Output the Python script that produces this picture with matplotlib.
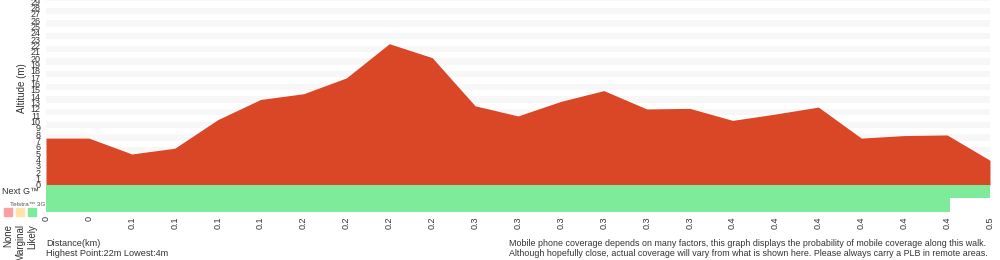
import matplotlib.pyplot as plt
from matplotlib.patches import Rectangle

plt.rcParams['font.family'] = ['Liberation Sans', 'DejaVu Sans']

# elevation profile (m), one value per sample point along the walk
dist_labels = ['0', '0', '0.1', '0.1', '0.1', '0.1', '0.2', '0.2', '0.2', '0.2',
               '0.3', '0.3', '0.3', '0.3', '0.3', '0.3', '0.4', '0.4', '0.4', '0.4',
               '0.4', '0.4', '0.5']
elevation = [7.4, 7.4, 4.9, 5.8, 10.3, 13.5, 14.4, 16.9, 22.3, 20.1,
             12.5, 10.9, 13.2, 14.9, 12.0, 12.1, 10.2, 11.2, 12.3, 7.4,
             7.8, 7.9, 3.9]

# coverage segments: (start index, length in index units, level)
nextg_cover = [(0, 22, 'Likely')]
g3_cover = [(0, 21.07, 'Likely')]

levels = ['None', 'Marginal', 'Likely']
level_colors = {'None': '#FF9E9E', 'Marginal': '#FFE3A8', 'Likely': '#7DEB9A'}

W, H = 1000, 260


def rect(x0, y0, x1, y1):
    # pixel box -> figure fraction
    return [x0 / W, 1 - y1 / H, (x1 - x0) / W, (y1 - y0) / H]


fig = plt.figure(figsize=(10, 2.6), dpi=100)

# altitude chart
ax = fig.add_axes(rect(46, 0, 990, 185))
x = list(range(len(elevation)))
for k in range(1, 30, 2):
    ax.axhspan(k, k + 1, color='#F7F7F7', lw=0, zorder=0)
ax.fill_between(x, elevation, 0, color='#D94726', lw=0, zorder=2)
ax.set_xlim(0, len(elevation) - 1)
ax.set_ylim(0, 29.2)
ax.set_yticks(range(30))
ax.set_yticklabels([str(v) for v in range(30)], fontsize=6.5, color='#333333')
ax.tick_params(axis='y', length=0, pad=4)
ax.set_xticks([])
for s in ax.spines.values():
    s.set_visible(False)
fig.text(22 / W, 1 - 88 / H, 'Altitude (m)', fontsize=7, color='#333333',
         rotation=90, ha='center', va='center')

# coverage rows
ax2 = fig.add_axes(rect(46, 185, 990, 212))
for start, length, lvl in nextg_cover:
    ax2.broken_barh([(start, length)], (1, 1), color=level_colors[lvl], lw=0)
for start, length, lvl in g3_cover:
    ax2.broken_barh([(start, length)], (0, 1), color=level_colors[lvl], lw=0)
ax2.set_xlim(0, len(elevation) - 1)
ax2.set_ylim(0, 2)
ax2.set_yticks([])
ax2.set_xticks(x)
ax2.set_xticklabels(dist_labels, rotation=90, fontsize=6.5, color='#333333')
ax2.tick_params(axis='x', length=0, pad=3)
for s in ax2.spines.values():
    s.set_visible(False)

# legend on the left
fig.text(2 / W, 1 - 192 / H, 'Next G™', fontsize=6.5, color='#333333', va='center')
fig.text(10 / W, 1 - 204 / H, 'Telstra™ 3G', fontsize=4.6, color='#555555', va='center')
for i, lvl in enumerate(levels):
    cx = 4 + i * 12
    fig.patches.append(Rectangle((cx / W, 1 - 216 / H), 8 / W, 8 / H,
                                 transform=fig.transFigure, color=level_colors[lvl]))
    fig.text((cx + 4) / W, 1 - 224 / H, lvl, fontsize=7, color='#333333',
             rotation=90, ha='center', va='top')

# footer text
fig.text(46 / W, 1 - 243 / H, 'Distance(km)', fontsize=6.6, color='#333333', va='center')
fig.text(46 / W, 1 - 254 / H, 'Highest Point:22m Lowest:4m', fontsize=6.6,
         color='#333333', va='center')
fig.text(509 / W, 1 - 243 / H,
         'Mobile phone coverage depends on many factors, this graph displays the '
         'probability of mobile coverage along this walk.',
         fontsize=6.4, color='#333333', va='center')
fig.text(509 / W, 1 - 254 / H,
         'Although hopefully close, actual coverage will vary from what is shown here. '
         'Please always carry a PLB in remote areas.',
         fontsize=6.4, color='#333333', va='center')

fig.savefig('out.png', dpi=100)
